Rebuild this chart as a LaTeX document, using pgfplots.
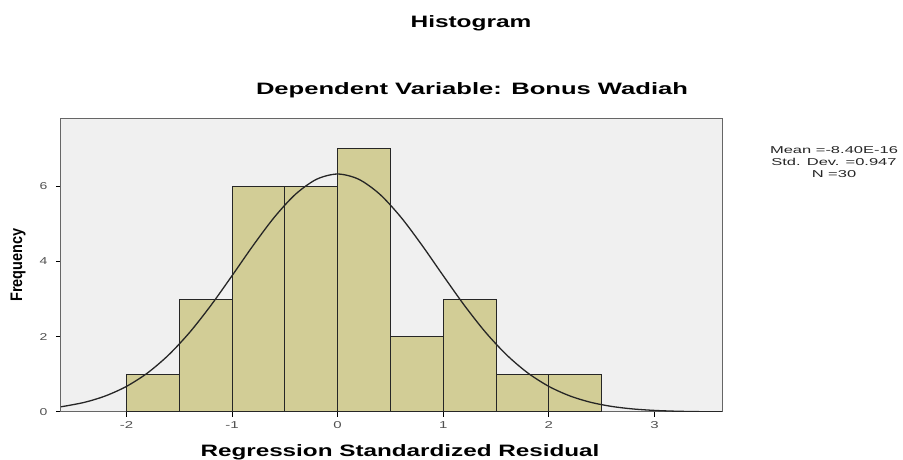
\documentclass[border=0pt]{standalone}
\usepackage{fontspec}
\setmainfont{Liberation Sans}
\usepackage{graphicx}
\usepackage{pgfplots}
\pgfplotsset{compat=1.18}
\definecolor{barfill}{RGB}{210,205,150}
\definecolor{bgray}{RGB}{240,240,240}
\definecolor{tickgray}{RGB}{80,80,80}
\begin{document}
\begin{tikzpicture}[x=1pt,y=1pt]
\path[use as bounding box] (-61,-48) rectangle (842,412);
\begin{axis}[at={(0,0)}, anchor=south west, scale only axis,
  width=661pt, height=293pt,
  xmin=-2.62, xmax=3.64, ymin=0, ymax=7.78,
  axis background/.style={fill=bgray},
  axis line style={draw=black!60, line width=1pt},
  xtick={-2,-1,0,1,2,3}, ytick={0,2,4,6},
  xtick pos=left, ytick pos=left,
  tick align=outside, major tick length=5pt,
  tick style={black, line width=1pt},
  tick label style={font=\fontsize{10}{10}\selectfont, text=tickgray},
  xticklabel={\scalebox{1.5}[1]{\pgfmathprintnumber[assume math mode=true]{\tick}}},
  yticklabel={\scalebox{1.4}[1]{\pgfmathprintnumber[assume math mode=true]{\tick}}},
  yticklabel style={xshift=-5pt},
  xticklabel style={yshift=-1pt},
  clip=true]
\addplot[ybar interval, fill=barfill, draw=black!85, line width=1pt]
  coordinates {(-2,1) (-1.5,3) (-1,6) (-0.5,6) (0,7) (0.5,2) (1,3) (1.5,1) (2,1) (2.5,1)};
\addplot[black!85, line width=1.3pt, smooth, mark=none] coordinates {
(-2.62,0.138) (-2.4,0.255) (-2.2,0.426) (-2.0,0.680) (-1.8,1.038) (-1.6,1.517)
(-1.4,2.119) (-1.2,2.832) (-1.0,3.619) (-0.8,4.423) (-0.6,5.170) (-0.4,5.780)
(-0.2,6.179) (0,6.319) (0.2,6.179) (0.4,5.780) (0.6,5.170) (0.8,4.423)
(1.0,3.619) (1.2,2.832) (1.4,2.119) (1.6,1.517) (1.8,1.038) (2.0,0.680)
(2.2,0.426) (2.4,0.255) (2.6,0.146) (2.8,0.080) (3.0,0.042) (3.2,0.021)
(3.4,0.010) (3.64,0.004)};
\end{axis}
\node[anchor=base] at (410,384) {\fontsize{16.5}{18}\selectfont\bfseries\scalebox{1.48}[1]{Histogram}};
\node[anchor=base] at (411,317) {\fontsize{16.5}{18}\selectfont\bfseries\scalebox{1.55}[1]{Dependent Variable: Bonus Wadiah}};
\node[anchor=base] at (339,-45) {\fontsize{16.5}{18}\selectfont\bfseries\scalebox{1.47}[1]{Regression Standardized Residual}};
\node[rotate=90] at (-43,147) {\fontsize{14.5}{16}\selectfont\bfseries\scalebox{1}[1.15]{Frequency}};
\node[anchor=north, align=center, inner sep=0pt, text=black!85] at (773,266)
  {\fontsize{10}{8.8}\selectfont\scalebox{1.65}[1]{Mean =-8.40E-16}\\\scalebox{1.65}[1]{Std. Dev. =0.947}\\\scalebox{1.65}[1]{N =30}};
\end{tikzpicture}
\end{document}
